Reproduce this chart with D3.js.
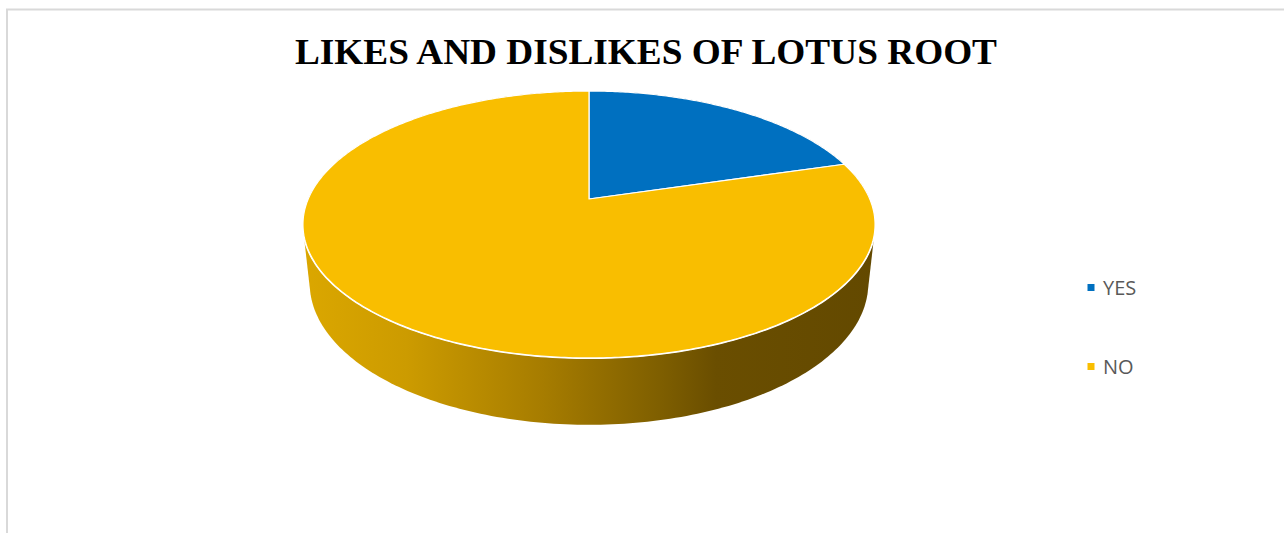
<!DOCTYPE html>
<html>
<head>
<meta charset="utf-8">
<script src="https://cdn.jsdelivr.net/npm/d3@7"></script>
<style>
  html, body { margin: 0; padding: 0; background: #ffffff; }
  svg { display: block; }
</style>
</head>
<body>
<svg id="chart" width="1284" height="533"></svg>
<script>
// Survey answers (share of respondents, %)
const categories = ["YES", "NO"];
const values = [20.4, 79.6];
const colors = ["#0070C0", "#F9BE00"];
const titleText = "LIKES AND DISLIKES OF LOTUS ROOT";

const W = 1284, H = 533;
const svg = d3.select("#chart");

// Chart area frame
svg.append("rect")
  .attr("x", 7).attr("y", 9.5)
  .attr("width", W + 10).attr("height", H + 10)
  .attr("fill", "#ffffff")
  .attr("stroke", "#d9d9d9").attr("stroke-width", 2);

// Title
svg.append("text")
  .attr("x", 646).attr("y", 64)
  .attr("text-anchor", "middle")
  .attr("font-family", "'Liberation Serif', 'Times New Roman', serif")
  .attr("font-weight", "bold")
  .attr("font-size", 36)
  .attr("textLength", 702)
  .attr("lengthAdjust", "spacingAndGlyphs")
  .attr("fill", "#000000")
  .text(titleText);

// 3D pie projection: a unit disc tilted toward the viewer, seen in perspective
const cx = 589, cy = 199;      // projected centre of the top face
const tiltS = 0.458, tiltC = Math.sqrt(1 - tiltS * tiltS);
const dist = 4.655;            // camera distance, in disc radii
const focal = 1307;            // focal scale, px
const thick = 0.238;           // pie thickness, in disc radii

// phi: clockwise angle from 12 o'clock; level: 0 top face, 1 bottom face
function project(phi, r, level) {
  const x = r * Math.sin(phi), y = r * Math.cos(phi);
  const h = level * thick;
  const X = x;
  const Yup = y * tiltS - h * tiltC;
  const Z = y * tiltC + h * tiltS;
  const k = focal / (dist + Z);
  return [cx + X * k, cy - Yup * k];
}

const pie = d3.pie().sort(null).value(d => d)
  .startAngle(0).endAngle(2 * Math.PI);
const arcs = pie(values);

// Side wall: hull of both rims, shaded left-to-right
const defs = svg.append("defs");
const grad = defs.append("linearGradient")
  .attr("id", "wallShade")
  .attr("gradientUnits", "userSpaceOnUse")
  .attr("x1", 304).attr("y1", 0).attr("x2", 876).attr("y2", 0);
[[0, "#dba700"], [0.18, "#cc9b00"], [0.42, "#a67c00"], [0.62, "#7f5f00"],
 [0.72, "#6a4e00"], [1, "#634900"]].forEach(([o, c]) =>
  grad.append("stop").attr("offset", o).attr("stop-color", c));

const rimPts = [];
const N = 360;
for (let i = 0; i < N; i++) {
  const phi = 2 * Math.PI * i / N;
  rimPts.push(project(phi, 1, 0));
  rimPts.push(project(phi, 1, 1));
}
const hull = d3.polygonHull(rimPts);
svg.append("path")
  .attr("d", "M" + hull.map(p => p.join(",")).join("L") + "Z")
  .attr("fill", "url(#wallShade)");

// Front rim highlight line between top face and wall
const frontLine = d3.line();
const frontPts = d3.range(90, 271).map(a => project(a * Math.PI / 180, 1, 0));
svg.append("path")
  .attr("d", frontLine(frontPts))
  .attr("fill", "none")
  .attr("stroke", "#ffffff")
  .attr("stroke-width", 2.2);

// Top face slices
const slicePath = d => {
  const steps = Math.max(8, Math.ceil((d.endAngle - d.startAngle) * 90));
  const pts = [project(0, 0, 0)];
  for (let i = 0; i <= steps; i++) {
    const a = d.startAngle + (d.endAngle - d.startAngle) * i / steps;
    pts.push(project(a, 1, 0));
  }
  return "M" + pts.map(p => p.join(",")).join("L") + "Z";
};
svg.append("g").selectAll("path")
  .data(arcs)
  .join("path")
  .attr("d", slicePath)
  .attr("fill", (d, i) => colors[i])
  .attr("stroke", "#ffffff")
  .attr("stroke-width", 1.2)
  .attr("stroke-linejoin", "round");

// Legend
const legend = svg.append("g");
const legY = d3.scalePoint().domain(categories).range([287.5, 366.5]);
categories.forEach((c, i) => {
  const y = legY(c);
  legend.append("rect")
    .attr("x", 1087.5).attr("y", y - 3.5)
    .attr("width", 7).attr("height", 7)
    .attr("fill", colors[i]);
  legend.append("text")
    .attr("x", 1103).attr("y", y + 7.5)
    .attr("font-family", "'Open Sans', 'Liberation Sans', sans-serif")
    .attr("font-size", 20)
    .attr("fill", "#595959")
    .text(c);
});
</script>
</body>
</html>
